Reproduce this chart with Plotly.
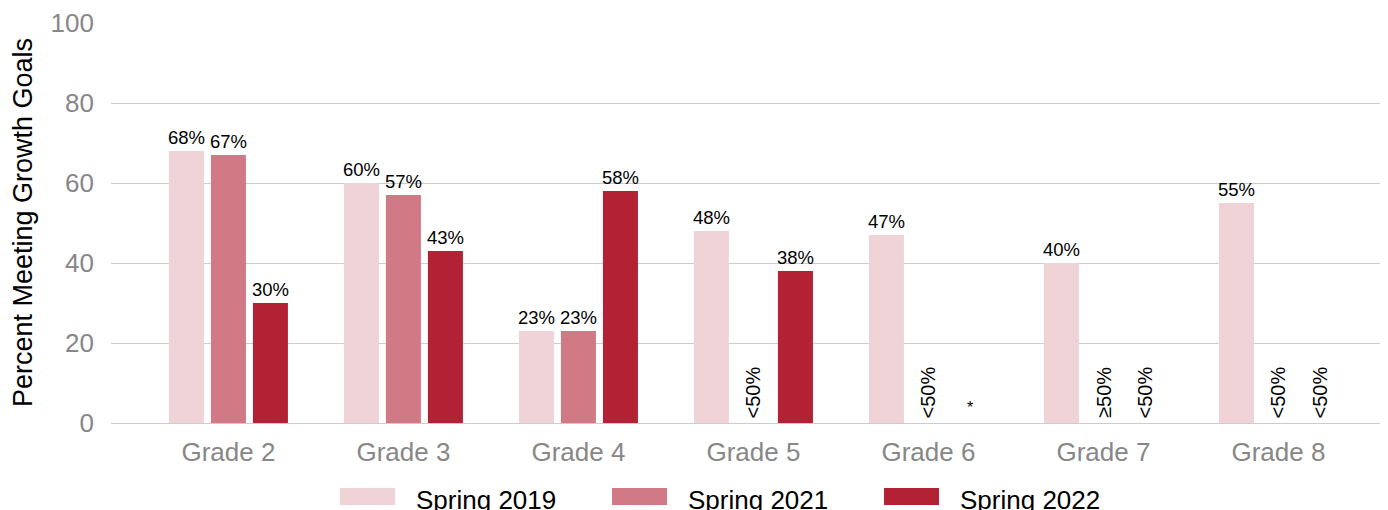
import plotly.graph_objects as go

grades = ["Grade 2", "Grade 3", "Grade 4", "Grade 5", "Grade 6", "Grade 7", "Grade 8"]
series_names = ["Spring 2019", "Spring 2021", "Spring 2022"]
spring_2019 = [68, 60, 23, 48, 47, 40, 55]
spring_2021 = [67, 57, 23, 0, 0, 0, 0]
spring_2022 = [30, 43, 58, 38, 0, 0, 0]
labels_2019 = ["68%", "60%", "23%", "48%", "47%", "40%", "55%"]
labels_2021 = ["67%", "57%", "23%", "<50%", "<50%", "≥50%", "<50%"]
labels_2022 = ["30%", "43%", "58%", "38%", "*", "<50%", "<50%"]
colors = ["#efd3d7", "#d17a86", "#b22234"]

# page body has an 8px margin; compensate so the plot lands on the target pixels
OFF = 8
SCREEN_W, SCREEN_H = 1388, 510
W, H = SCREEN_W - OFF, SCREEN_H - OFF
PL, PR, PT, PB = 111, 1388, 22, 423          # plot area in screen pixels
ML, MR, MT, MB = PL - OFF, SCREEN_W - PR, PT - OFF, SCREEN_H - PB
FONT = "Liberation Sans, Arial, sans-serif"
BARGAP = 0.28
SLOT = (1 - BARGAP) / 3

x = list(range(len(grades)))
fig = go.Figure()
annotations = []
for k, (name, vals, labs, col) in enumerate(zip(series_names,
                                                 [spring_2019, spring_2021, spring_2022],
                                                 [labels_2019, labels_2021, labels_2022],
                                                 colors)):
    normal = [l if v > 0 else "" for v, l in zip(vals, labs)]
    fig.add_trace(go.Bar(
        x=x, y=vals, name=name, marker=dict(color=col, line=dict(width=0)),
        text=normal, textposition="outside", constraintext="none",
        textfont=dict(family=FONT, size=18.5, color="#000000"),
        cliponaxis=False, showlegend=False, hoverinfo="skip"))
    for i, (v, l) in enumerate(zip(vals, labs)):
        if v == 0 and l:
            xp = i + (k - 1) * SLOT
            if l == "*":
                annotations.append(dict(x=xp, y=0, xref="x", yref="y", text=l,
                                        showarrow=False, yanchor="bottom", yshift=5,
                                        font=dict(family=FONT, size=16, color="#000000")))
            else:
                annotations.append(dict(x=xp, y=0, xref="x", yref="y", text=l,
                                        showarrow=False, textangle=-90,
                                        yanchor="bottom", yshift=3,
                                        font=dict(family=FONT, size=20, color="#000000")))

# custom legend (wide swatches), positioned in screen pixels
pw = PR - PL
ph = PB - PT
def px(xs):
    return (xs - PL) / pw
def py(ys):
    return (PB - ys) / ph

shapes = []
sw_left = [340, 612, 884]
for k, name in enumerate(series_names):
    x0 = sw_left[k]
    shapes.append(dict(type="rect", xref="paper", yref="paper",
                       x0=px(x0), x1=px(x0 + 55), y0=py(505), y1=py(488),
                       fillcolor=colors[k], line=dict(width=0)))
    annotations.append(dict(x=px(x0 + 74), y=py(499.5), xref="paper", yref="paper",
                            text=name, showarrow=False, xanchor="left", yanchor="middle",
                            font=dict(family=FONT, size=26, color="#000000")))

fig.update_layout(
    width=W, height=H,
    margin=dict(l=ML, r=MR, t=MT, b=MB, autoexpand=False),
    paper_bgcolor="white", plot_bgcolor="white",
    barmode="group", bargap=BARGAP, bargroupgap=7 / 42,
    showlegend=False,
    annotations=annotations, shapes=shapes,
    font=dict(family=FONT),
    xaxis=dict(tickmode="array", tickvals=x, ticktext=grades,
               range=[-0.671, 6.626], showgrid=False, zeroline=False,
               ticks="", ticklabelstandoff=11,
               tickfont=dict(family=FONT, size=26, color="#878787")),
    yaxis=dict(range=[0, 100.25], tickvals=[0, 20, 40, 60, 80, 100],
               showgrid=True, gridcolor="#cccccc",
               gridwidth=1, zeroline=True, zerolinecolor="#cccccc", zerolinewidth=1,
               ticks="", ticklabelstandoff=16,
               tickfont=dict(family=FONT, size=26, color="#878787")),
)
fig.update_yaxes(title=dict(text="Percent Meeting Growth Goals", standoff=14,
                            font=dict(family=FONT, size=27, color="#000000")))

fig.write_html("out.html")
